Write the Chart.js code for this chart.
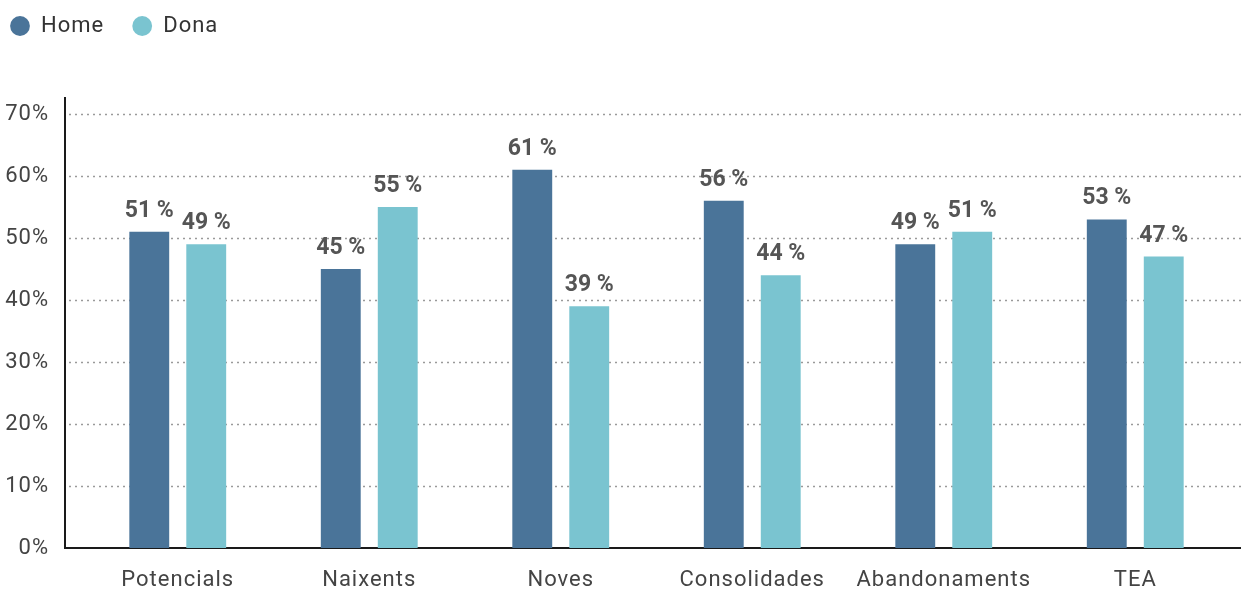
<!DOCTYPE html>
<html>
<head>
<meta charset="utf-8">
<script src="https://cdn.jsdelivr.net/npm/chart.js@4.4.1/dist/chart.umd.min.js"></script>
<style>
html,body{margin:0;padding:0;background:#fff;}
#wrap{width:1241px;height:590px;position:relative;}
</style>
</head>
<body>
<div id="wrap"><canvas id="c" width="1241" height="590"></canvas></div>
<script>
const categories = ['Potencials', 'Naixents', 'Noves', 'Consolidades', 'Abandonaments', 'TEA'];
const homeValues = [51, 45, 61, 56, 49, 53];
const donaValues = [49, 55, 39, 44, 51, 47];
const seriesNames = ['Home', 'Dona'];
const yTicks = [0, 10, 20, 30, 40, 50, 60, 70];

const FONT = 'Roboto, "Noto Sans", sans-serif';

const spacingPlugin = {
  id: 'spacing',
  beforeUpdate(chart) { chart.ctx.letterSpacing = '1px'; },
  beforeDraw(chart) { chart.ctx.letterSpacing = '1px'; }
};

const legendHeightPlugin = {
  id: 'legendHeight',
  beforeInit(chart) {
    const lg = chart.legend;
    if (!lg) return;
    const fit = lg.fit;
    lg.fit = function () {
      fit.call(this);
      this.height = 127;
    };
  }
};

const axesPlugin = {
  id: 'axesLines',
  beforeDatasetsDraw(chart) {
    const ctx = chart.ctx;
    const area = chart.chartArea;
    const y = chart.scales.y;
    const left = area.left - 17;
    const right = chart.width;
    ctx.save();
    ctx.strokeStyle = '#9a9a9a';
    ctx.lineWidth = 1.5;
    ctx.setLineDash([2, 4]);
    y.ticks.forEach(t => {
      if (t.value === 0) return;
      const py = Math.round(y.getPixelForValue(t.value)) + 0.5;
      ctx.beginPath();
      ctx.moveTo(left + 4, py);
      ctx.lineTo(right, py);
      ctx.stroke();
    });
    ctx.setLineDash([]);
    ctx.strokeStyle = '#1a1a1a';
    ctx.lineWidth = 2;
    ctx.beginPath();
    ctx.moveTo(left, area.top - 17);
    ctx.lineTo(left, area.bottom + 1);
    ctx.moveTo(left - 1, area.bottom);
    ctx.lineTo(right, area.bottom);
    ctx.stroke();
    ctx.restore();
  }
};

const valueLabelPlugin = {
  id: 'valueLabels',
  afterDatasetsDraw(chart) {
    const ctx = chart.ctx;
    ctx.save();
    ctx.letterSpacing = '0px';
    ctx.font = 'bold 23px ' + FONT;
    ctx.fillStyle = '#555555';
    ctx.textAlign = 'center';
    ctx.textBaseline = 'alphabetic';
    chart.data.datasets.forEach((ds, di) => {
      const meta = chart.getDatasetMeta(di);
      meta.data.forEach((bar, i) => {
        ctx.fillText(ds.data[i] + ' %', bar.x, bar.y - 15);
      });
    });
    ctx.restore();
  }
};

new Chart(document.getElementById('c'), {
  type: 'bar',
  data: {
    labels: categories,
    datasets: [
      { label: seriesNames[0], data: homeValues, backgroundColor: '#4a7499' },
      { label: seriesNames[1], data: donaValues, backgroundColor: '#7ac4d0' }
    ]
  },
  options: {
    responsive: false,
    animation: false,
    devicePixelRatio: 1,
    layout: { padding: { top: -13, right: 10, left: -18, bottom: 0 } },
    datasets: { bar: { categoryPercentage: 0.595, barPercentage: 0.70 } },
    plugins: {
      legend: {
        position: 'top',
        align: 'start',
        labels: {
          usePointStyle: true,
          pointStyle: 'circle',
          boxWidth: 20,
          boxHeight: 14,
          padding: 28,
          color: '#333333',
          font: { family: FONT, size: 22 }
        }
      },
      tooltip: { enabled: false }
    },
    scales: {
      x: {
        grid: { display: false, drawTicks: false },
        border: { display: false },
        ticks: { color: '#444444', font: { family: FONT, size: 22 }, padding: 19, maxRotation: 0, autoSkip: false },
        afterFit(s) { s.height = 42; }
      },
      y: {
        min: 0, max: 70,
        afterBuildTicks(s) { s.ticks = yTicks.map(v => ({ value: v })); },
        grid: { display: false, drawTicks: true, tickLength: 33 },
        border: { display: false },
        ticks: { color: '#444444', font: { family: FONT, size: 22 }, padding: 0, callback: v => v + '%' },
        afterFit(s) { s.width = 100; }
      }
    }
  },
  plugins: [spacingPlugin, legendHeightPlugin, axesPlugin, valueLabelPlugin]
});
</script>
</body>
</html>
